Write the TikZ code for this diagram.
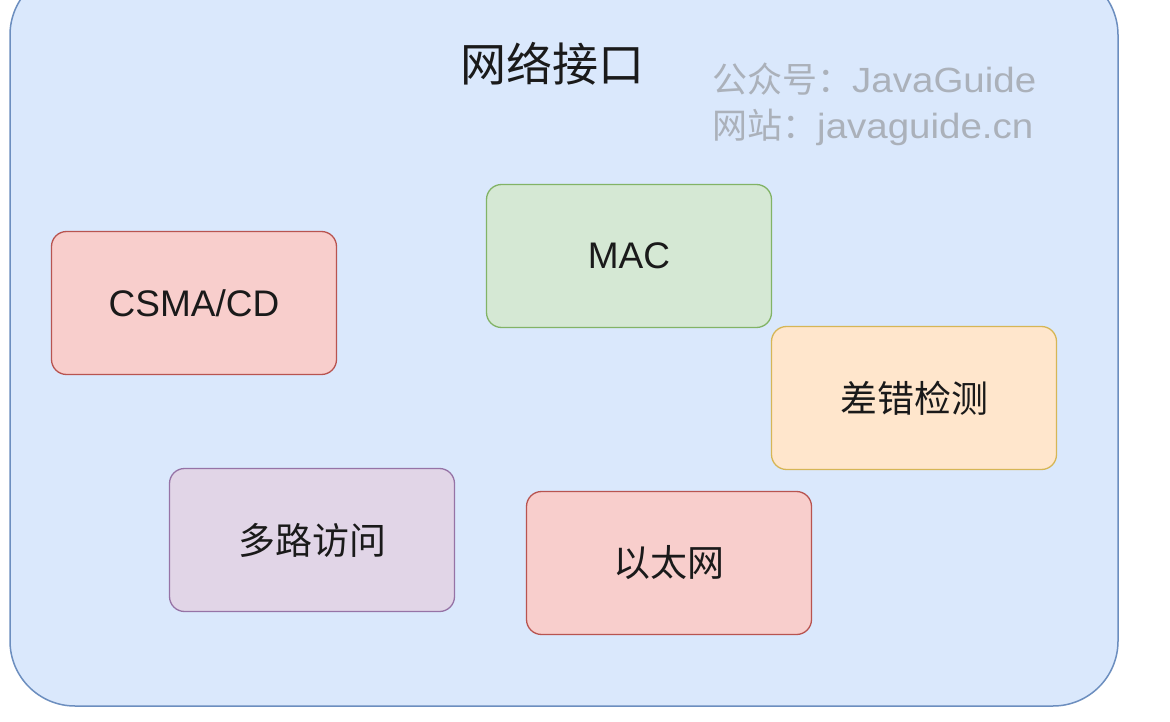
\documentclass[tikz,border=0pt]{standalone}
\usepackage{fontspec}
\setmainfont{Liberation Sans}
\newfontfamily\cjk{Noto Sans CJK SC}
\newfontfamily\wmlatin{Liberation Sans}[FakeStretch=1.1]
\definecolor{outerfill}{HTML}{DAE8FC}
\definecolor{outerdraw}{HTML}{6C8EBF}
\definecolor{redfill}{HTML}{F8CECC}
\definecolor{reddraw}{HTML}{B85450}
\definecolor{greenfill}{HTML}{D5E8D4}
\definecolor{greendraw}{HTML}{82B366}
\definecolor{orangefill}{HTML}{FFE6CC}
\definecolor{orangedraw}{HTML}{D6B656}
\definecolor{purplefill}{HTML}{E1D5E7}
\definecolor{purpledraw}{HTML}{9673A6}
\definecolor{wmgray}{HTML}{ABB1BA}
\definecolor{txt}{HTML}{1A1A1A}
\tikzset{
  x=1pt, y=-1pt,
  itembox/.style={draw, rounded corners=15pt, line width=1.3pt,
    minimum width=285pt, minimum height=143pt, inner sep=0pt,
    text=txt, font=\fontsize{37}{44}\selectfont},
  cjkbox/.style={itembox, font=\cjk\fontsize{37}{44}\selectfont},
  titletext/.style={text=txt, inner sep=0pt, font=\cjk\fontsize{46}{54}\selectfont},
  wmtext/.style={text=wmgray, inner sep=0pt, anchor=west, font=\fontsize{35}{40}\selectfont}
}
\begin{document}
\begin{tikzpicture}
\useasboundingbox (0,0) rectangle (1170,722);
\fill[white] (0,0) rectangle (1170,722);
\draw[fill=outerfill, draw=outerdraw, line width=1.5pt, rounded corners=65pt]
  (10,-30) rectangle (1118,706);
\node[titletext] (title) at (552,64) {网络接口};
\node[wmtext] (wm1) at (712,79) {{\cjk 公众号：}{\wmlatin JavaGuide}};
\node[wmtext] (wm2) at (712,127) {{\cjk 网站：}{\wmlatin javaguide.cn}};
\node[itembox, fill=redfill, draw=reddraw] (csma) at (194,303) {CSMA/CD};
\node[itembox, fill=greenfill, draw=greendraw] (mac) at (629,256) {MAC};
\node[cjkbox, fill=orangefill, draw=orangedraw] (err) at (914,398) {差错检测};
\node[cjkbox, fill=purplefill, draw=purpledraw] (multi) at (312,540) {多路访问};
\node[cjkbox, fill=redfill, draw=reddraw] (eth) at (669,563) {以太网};
\end{tikzpicture}
\end{document}
